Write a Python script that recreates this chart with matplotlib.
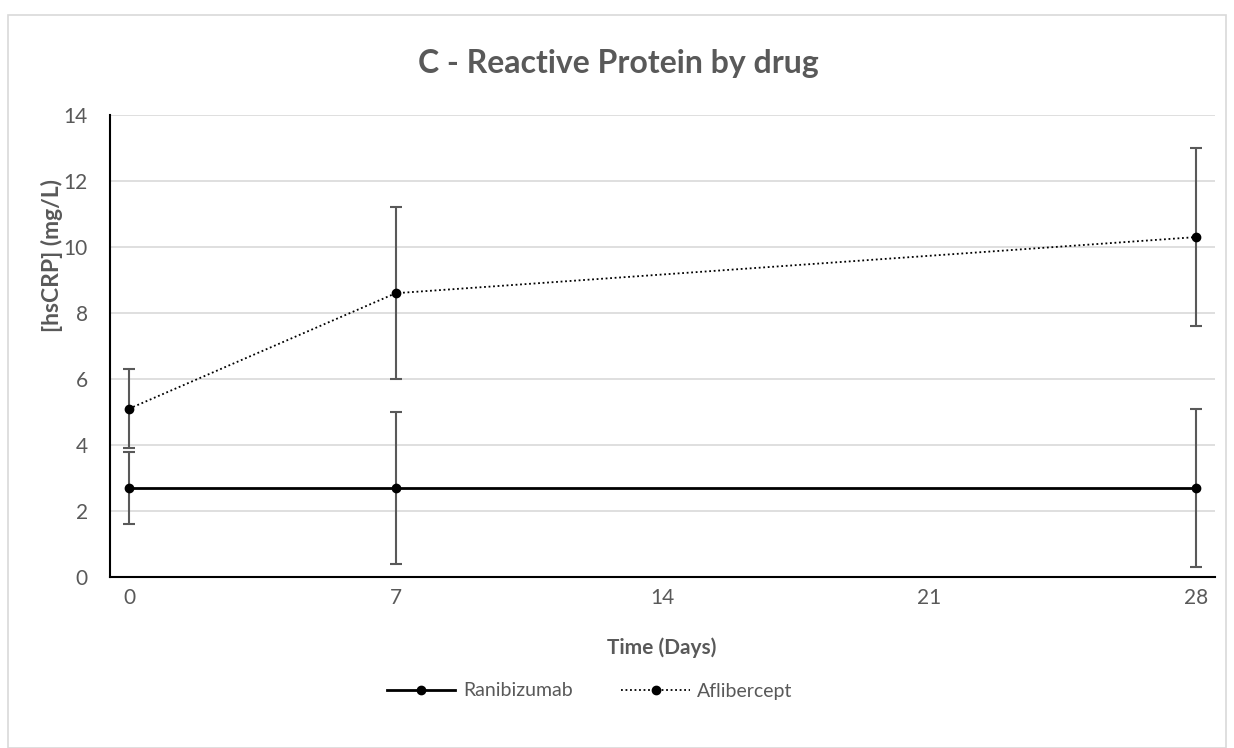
import matplotlib
matplotlib.use("Agg")
import matplotlib.pyplot as plt
from matplotlib.lines import Line2D
from matplotlib.patches import Rectangle

days = [0, 7, 28]
ranibizumab = [2.7, 2.7, 2.7]
ranibizumab_err = [1.1, 2.3, 2.4]
aflibercept = [5.1, 8.6, 10.3]
aflibercept_err = [1.2, 2.6, 2.7]
x_ticks = [0, 7, 14, 21, 28]
y_ticks = [0, 2, 4, 6, 8, 10, 12, 14]

plt.rcParams['font.family'] = ['Lato', 'DejaVu Sans']
W, H = 1234, 748
fig = plt.figure(figsize=(W/100, H/100), dpi=100)
fig.patches.append(Rectangle((8/W, 0), (1226-8)/W, 1 - 15/H, transform=fig.transFigure,
                             fill=False, edgecolor='#d9d9d9', linewidth=1.2))
ax = fig.add_axes([110/W, 1 - 577/H, (1215-110)/W, (577-115)/H])

grey = '#595959'
ax.errorbar(days, ranibizumab, yerr=ranibizumab_err, fmt='none', ecolor=grey,
            elinewidth=1.5, capsize=4.5, capthick=1.5, zorder=3)
ax.errorbar(days, aflibercept, yerr=aflibercept_err, fmt='none', ecolor=grey,
            elinewidth=1.5, capsize=4.5, capthick=1.5, zorder=3)
ax.plot(days, ranibizumab, color='black', linewidth=2, marker='o', markersize=6,
        zorder=4, label='Ranibizumab')
ax.plot(days, aflibercept, color='black', linewidth=1.3, linestyle=(0, (1, 1.5)),
        marker='o', markersize=6, zorder=4, label='Aflibercept')

ax.set_xlim(-0.5, 28.5)
ax.set_ylim(0, 14)
ax.set_xticks(x_ticks)
ax.set_yticks(y_ticks)
ax.tick_params(length=0, labelsize=15, labelcolor=grey)
ax.tick_params(axis='x', pad=8)
ax.tick_params(axis='y', pad=16)
ax.grid(axis='y', color='#d9d9d9', linewidth=1.2, zorder=0)
ax.set_axisbelow(True)
for s in ['top', 'right']:
    ax.spines[s].set_visible(False)
for s in ['left', 'bottom']:
    ax.spines[s].set_color('black')
    ax.spines[s].set_linewidth(1.5)

fig.text(618/W, 1 - 63/H, 'C - Reactive Protein by drug', ha='center', va='center',
         fontsize=23, fontweight='bold', color=grey)
fig.text(662/W, 1 - 648/H, 'Time (Days)', ha='center', va='center',
         fontsize=15, fontweight='bold', color=grey)
fig.text(52/W, 1 - 256/H, '[hsCRP] (mg/L)', ha='center', va='center', rotation=90,
         fontsize=16.5, fontweight='bold', color=grey)

handles = [Line2D([], [], color='black', linewidth=2, marker='o', markersize=6),
           Line2D([], [], color='black', linewidth=1.3, linestyle=(0, (1, 1.5)),
                  marker='o', markersize=6)]
fig.legend(handles, ['Ranibizumab', 'Aflibercept'], loc='center',
           bbox_to_anchor=(590/W, 1 - 691/H), ncol=2, frameon=False,
           fontsize=14, labelcolor=grey, handlelength=3.5, columnspacing=2.5,
           handletextpad=0.4)

fig.savefig('out.png', dpi=100)
